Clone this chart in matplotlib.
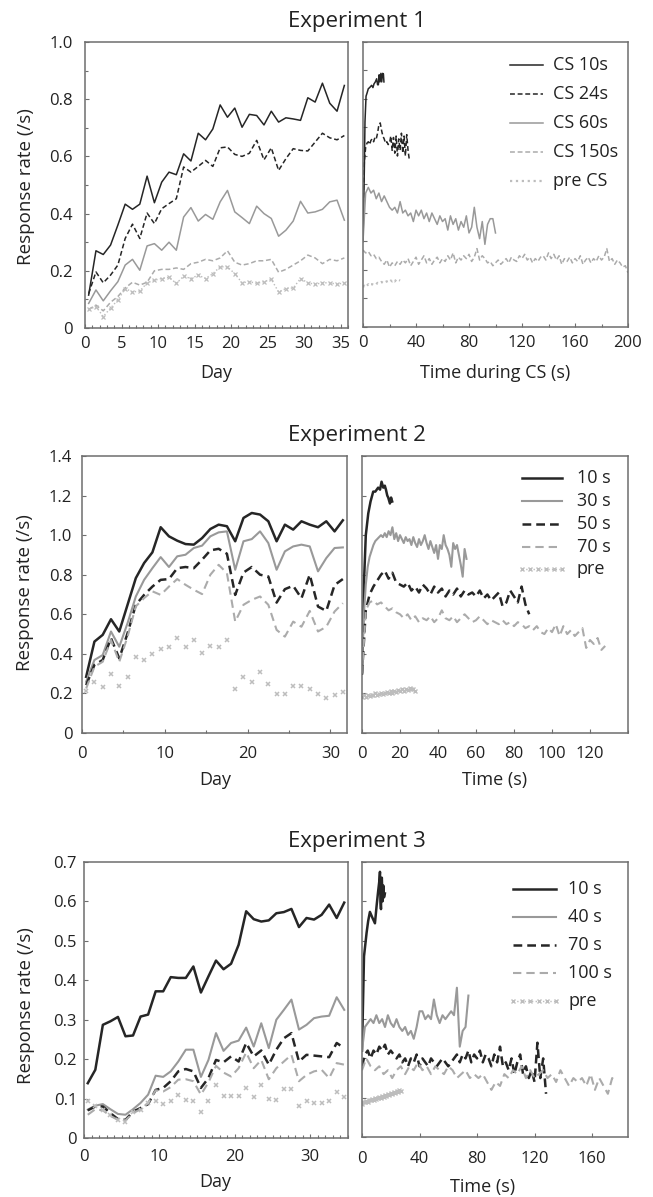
import numpy as np
import matplotlib
matplotlib.use('Agg')
import matplotlib.pyplot as plt
from matplotlib.lines import Line2D
from matplotlib.ticker import MultipleLocator, FuncFormatter, NullFormatter

plt.rcParams['font.family'] = ['Open Sans', 'DejaVu Sans']

# ---------------- Experiment 1 ----------------
e1_days = np.arange(36) + 0.5
e1_cs10 = [0.115, 0.27, 0.257, 0.29, 0.36, 0.433, 0.415, 0.433, 0.531, 0.438, 0.51, 0.545, 0.536, 0.609, 0.584, 0.681,
           0.658, 0.696, 0.78, 0.737, 0.769, 0.702, 0.747, 0.743, 0.71, 0.758, 0.72, 0.735, 0.731, 0.726, 0.805, 0.79,
           0.856, 0.786, 0.758, 0.848]
e1_cs24 = [0.12, 0.196, 0.158, 0.185, 0.22, 0.313, 0.363, 0.313, 0.402, 0.365, 0.417, 0.435, 0.452, 0.563, 0.545, 0.565,
           0.586, 0.565, 0.63, 0.633, 0.607, 0.6, 0.611, 0.656, 0.588, 0.63, 0.551, 0.592, 0.627, 0.621, 0.619, 0.65,
           0.681, 0.665, 0.658, 0.673]
e1_cs60 = [0.086, 0.133, 0.095, 0.13, 0.162, 0.22, 0.24, 0.202, 0.287, 0.295, 0.272, 0.3, 0.272, 0.388, 0.421, 0.374,
           0.397, 0.38, 0.441, 0.481, 0.406, 0.386, 0.365, 0.426, 0.4, 0.383, 0.321, 0.342, 0.374, 0.443, 0.402, 0.406,
           0.415, 0.441, 0.447, 0.377]
e1_cs150 = [0.065, 0.08, 0.06, 0.09, 0.11, 0.14, 0.16, 0.15, 0.16, 0.2, 0.205, 0.205, 0.21, 0.205, 0.225, 0.23, 0.24,
            0.235, 0.245, 0.27, 0.23, 0.22, 0.225, 0.235, 0.235, 0.24, 0.195, 0.205, 0.22, 0.235, 0.255, 0.245, 0.225,
            0.24, 0.235, 0.245]
e1_pre = [0.065, 0.075, 0.04, 0.07, 0.098, 0.138, 0.126, 0.129, 0.158, 0.167, 0.173, 0.177, 0.156, 0.181, 0.173, 0.185,
          0.173, 0.19, 0.214, 0.214, 0.19, 0.158, 0.162, 0.156, 0.162, 0.17, 0.126, 0.138, 0.14, 0.173, 0.158, 0.153,
          0.158, 0.158, 0.153, 0.158]

e1r_cs10_t = [0, 1, 1.5, 2.3, 3, 4, 5, 6.5, 7.5, 8.3, 9.3, 10.3, 11, 11.6, 12.2, 12.8, 13.5, 14.1, 14.8, 15.4, 15.8]
e1r_cs10 = [0.30, 0.55, 0.72, 0.81, 0.82, 0.836, 0.84, 0.848, 0.84, 0.853, 0.86, 0.871, 0.85, 0.85, 0.885, 0.86, 0.89,
            0.86, 0.89, 0.888, 0.86]
e1r_cs24_t = np.arange(0, 36, 1)
e1r_cs24 = [0.40, 0.58, 0.63, 0.645, 0.65, 0.64, 0.655, 0.66, 0.65, 0.665, 0.66, 0.68, 0.71, 0.716, 0.69, 0.67, 0.66,
            0.645, 0.65, 0.64, 0.645, 0.67, 0.62, 0.665, 0.61, 0.67, 0.6, 0.66, 0.62, 0.68, 0.61, 0.67, 0.6, 0.675,
            0.62, 0.585]
e1r_cs60_t = np.arange(0, 101, 2)
e1r_cs60 = [0.30, 0.47, 0.49, 0.47, 0.48, 0.45, 0.47, 0.44, 0.46, 0.44, 0.42, 0.41, 0.42, 0.40, 0.44, 0.40, 0.41, 0.39,
            0.40, 0.37, 0.41, 0.39, 0.41, 0.38, 0.40, 0.37, 0.40, 0.38, 0.36, 0.39, 0.37, 0.38, 0.34, 0.39, 0.36, 0.38,
            0.34, 0.37, 0.35, 0.39, 0.33, 0.35, 0.42, 0.35, 0.31, 0.37, 0.29, 0.36, 0.38, 0.38, 0.33]
e1r_cs150_t = np.arange(0, 201, 2)
e1r_cs150 = [0.27, 0.26, 0.265, 0.25, 0.255, 0.24, 0.245, 0.23, 0.22, 0.235, 0.21, 0.225, 0.215, 0.23, 0.22, 0.235,
             0.225, 0.24, 0.215, 0.23,
             0.245, 0.22, 0.235, 0.25, 0.225, 0.24, 0.22, 0.235, 0.245, 0.225, 0.24, 0.23, 0.25, 0.235, 0.26, 0.225,
             0.245, 0.235, 0.25, 0.24,
             0.255, 0.23, 0.245, 0.275, 0.235, 0.25, 0.24, 0.225, 0.23, 0.215, 0.225, 0.235, 0.22, 0.23, 0.24, 0.225,
             0.245, 0.235, 0.23, 0.25,
             0.24, 0.255, 0.235, 0.245, 0.225, 0.24, 0.23, 0.245, 0.25, 0.235, 0.26, 0.24, 0.255, 0.235, 0.25, 0.22,
             0.24, 0.23, 0.245, 0.225,
             0.24, 0.23, 0.25, 0.22, 0.235, 0.245, 0.225, 0.24, 0.23, 0.25, 0.235, 0.245, 0.275, 0.23, 0.24, 0.22,
             0.235, 0.225, 0.21, 0.215, 0.19]
e1r_pre_t = np.arange(0, 29, 1)
e1r_pre = [0.14, 0.145, 0.14, 0.145, 0.15, 0.145, 0.15, 0.15, 0.148, 0.152, 0.15, 0.155, 0.152, 0.155, 0.158, 0.155,
           0.16, 0.158, 0.16, 0.162, 0.158, 0.163, 0.16, 0.165, 0.16, 0.166, 0.162, 0.165, 0.163]
e1_labels = ['CS 10s', 'CS 24s', 'CS 60s', 'CS 150s', 'pre CS']

# ---------------- Experiment 2 ----------------
e2_days = np.arange(32) + 0.5
e2_10 = [0.284, 0.462, 0.496, 0.575, 0.513, 0.648, 0.783, 0.859, 0.913, 1.04, 0.994, 0.972, 0.955, 0.952, 0.985, 1.031,
         1.053, 1.045, 0.969, 1.087, 1.112, 1.104, 1.07, 0.969, 1.053, 1.028, 1.07, 1.053, 1.04, 1.07, 1.019, 1.075]
e2_30 = [0.259, 0.369, 0.394, 0.513, 0.436, 0.555, 0.69, 0.774, 0.833, 0.889, 0.839, 0.893, 0.901, 0.935, 0.947, 0.994,
         1.014, 1.019, 0.825, 0.969, 0.98, 1.019, 0.96, 0.825, 0.918, 0.943, 0.952, 0.943, 0.817, 0.884, 0.935, 0.938]
e2_50 = [0.242, 0.344, 0.369, 0.479, 0.377, 0.504, 0.648, 0.698, 0.74, 0.774, 0.778, 0.833, 0.839, 0.833, 0.876, 0.923,
         0.931, 0.906, 0.698, 0.811, 0.839, 0.8, 0.791, 0.659, 0.727, 0.744, 0.681, 0.8, 0.639, 0.617, 0.748, 0.778]
e2_70 = [0.225, 0.335, 0.36, 0.47, 0.36, 0.487, 0.64, 0.682, 0.716, 0.698, 0.74, 0.778, 0.749, 0.724, 0.702, 0.8, 0.85,
         0.808, 0.563, 0.648, 0.673, 0.69, 0.648, 0.521, 0.487, 0.563, 0.537, 0.617, 0.513, 0.537, 0.614, 0.656]
e2_pre = [0.21, 0.26, 0.23, 0.3, 0.24, 0.285, 0.386, 0.37, 0.4, 0.425, 0.437, 0.48, 0.437, 0.47, 0.404, 0.44, 0.437,
          0.47, 0.22, 0.285, 0.26, 0.31, 0.25, 0.195, 0.195, 0.237, 0.237, 0.222, 0.195, 0.175, 0.192, 0.208]

e2r_10_t = [0, 1, 2, 3.3, 4.5, 5.9, 7, 8.5, 9.5, 10.3, 11.2, 12, 12.6, 13.3, 13.8, 14.7, 15.3, 15.9]
e2r_10 = [0.3, 0.75, 1.0, 1.11, 1.17, 1.22, 1.22, 1.24, 1.23, 1.27, 1.24, 1.25, 1.23, 1.20, 1.19, 1.16, 1.19, 1.17]
e2r_30_t = np.arange(0, 56, 1)
e2r_30 = [0.35, 0.6, 0.75, 0.84, 0.89, 0.92, 0.95, 0.97, 0.98, 0.99, 1.00, 0.99, 1.01, 0.99, 1.02, 1.00, 1.04, 0.98,
          1.01, 0.97, 1.00, 0.98, 0.96, 0.99, 0.97, 0.98, 0.95, 0.99, 0.96, 0.94, 0.98, 0.95, 0.97, 1.00, 0.96, 0.93,
          0.97, 0.94, 0.91, 0.95, 0.88, 0.95, 0.93, 1.0, 0.95, 0.93, 0.90, 0.84, 0.96, 0.93, 0.95, 0.90, 0.85, 0.79,
          0.93, 0.88]
e2r_50_t = np.arange(0, 89, 2)
e2r_50 = [0.3, 0.62, 0.70, 0.74, 0.77, 0.80, 0.82, 0.78, 0.81, 0.76, 0.75, 0.74, 0.76, 0.72, 0.74, 0.71, 0.75, 0.73,
          0.70, 0.74, 0.71, 0.73, 0.69, 0.72, 0.70, 0.73, 0.69, 0.72, 0.70, 0.71, 0.69, 0.72, 0.68, 0.70, 0.67, 0.69,
          0.71, 0.64, 0.66, 0.72, 0.69, 0.66, 0.74, 0.65, 0.60]
e2r_70_t = np.arange(0, 129, 2)
e2r_70 = [0.3, 0.62, 0.66, 0.67, 0.65, 0.66, 0.64, 0.62, 0.63, 0.61, 0.60, 0.58, 0.60, 0.57, 0.59, 0.56, 0.58, 0.57,
          0.59, 0.56, 0.58, 0.62, 0.58, 0.57, 0.59, 0.56, 0.58, 0.60, 0.58, 0.56, 0.57, 0.59, 0.57, 0.55, 0.57, 0.56,
          0.55, 0.57, 0.55, 0.56, 0.54, 0.56, 0.55, 0.53, 0.54, 0.52, 0.54, 0.51, 0.50, 0.53, 0.51, 0.55, 0.49, 0.54,
          0.50, 0.52, 0.49, 0.51, 0.53, 0.43, 0.47, 0.45, 0.48, 0.42, 0.44]
e2r_pre_t = np.arange(0, 29, 1)
e2r_pre = [0.18, 0.19, 0.18, 0.19, 0.185, 0.19, 0.19, 0.2, 0.19, 0.195, 0.2, 0.195, 0.2, 0.205, 0.2, 0.21, 0.2, 0.21,
           0.205, 0.215, 0.21, 0.22, 0.21, 0.22, 0.215, 0.225, 0.22, 0.22, 0.21]
e2_labels = ['10 s', '30 s', '50 s', '70 s', 'pre']

# ---------------- Experiment 3 ----------------
e3_days = np.arange(35) + 0.5
e3_10 = [0.139, 0.173, 0.287, 0.296, 0.307, 0.258, 0.26, 0.308, 0.313, 0.372, 0.372, 0.408, 0.406, 0.406, 0.435, 0.369,
         0.41, 0.45, 0.428, 0.442, 0.49, 0.575, 0.555, 0.549, 0.552, 0.57, 0.573, 0.581, 0.535, 0.558, 0.554, 0.566,
         0.592, 0.558, 0.597]
e3_40 = [0.072, 0.082, 0.086, 0.073, 0.061, 0.059, 0.073, 0.089, 0.11, 0.158, 0.155, 0.169, 0.194, 0.224, 0.224, 0.155,
         0.198, 0.266, 0.221, 0.241, 0.247, 0.28, 0.232, 0.291, 0.228, 0.3, 0.325, 0.351, 0.275, 0.287, 0.304, 0.308,
         0.31, 0.357, 0.325]
e3_70 = [0.07, 0.08, 0.08, 0.063, 0.048, 0.046, 0.067, 0.076, 0.086, 0.122, 0.127, 0.144, 0.169, 0.175, 0.169, 0.127,
         0.152, 0.198, 0.192, 0.207, 0.194, 0.241, 0.207, 0.222, 0.186, 0.224, 0.253, 0.266, 0.194, 0.211, 0.209, 0.207,
         0.205, 0.241, 0.228]
e3_100 = [0.059, 0.073, 0.07, 0.056, 0.046, 0.045, 0.063, 0.073, 0.089, 0.121, 0.118, 0.129, 0.148, 0.149, 0.144, 0.11,
          0.141, 0.183, 0.166, 0.156, 0.177, 0.217, 0.177, 0.198, 0.149, 0.177, 0.194, 0.211, 0.144, 0.16, 0.169, 0.173,
          0.152, 0.19, 0.186]
e3_pre = [0.093, 0.08, 0.072, 0.058, 0.045, 0.041, 0.066, 0.072, 0.09, 0.093, 0.087, 0.095, 0.11, 0.097, 0.093, 0.065,
          0.093, 0.135, 0.107, 0.107, 0.107, 0.127, 0.104, 0.135, 0.1, 0.097, 0.124, 0.124, 0.08, 0.093, 0.09, 0.09,
          0.093, 0.116, 0.105]

e3r_10_t = [0, 1.4, 2.3, 3.2, 4.3, 5.5, 7, 9, 10.2, 11.3, 12, 12.5, 12.9, 13.2, 13.5, 13.8, 14.3, 14.8, 15.3, 15.9]
e3r_10 = [0.22, 0.46, 0.49, 0.52, 0.55, 0.573, 0.56, 0.544, 0.59, 0.628, 0.65, 0.675, 0.6, 0.58, 0.65, 0.66, 0.6, 0.64,
          0.61, 0.62]
e3r_40_t = np.arange(0, 75, 2)
e3r_40 = [0.22, 0.28, 0.29, 0.30, 0.29, 0.31, 0.29, 0.30, 0.28, 0.31, 0.29, 0.28, 0.30, 0.28, 0.27, 0.28, 0.26, 0.27,
          0.25, 0.28, 0.32, 0.32, 0.30, 0.31, 0.30, 0.35, 0.31, 0.29, 0.31, 0.30, 0.31, 0.32, 0.31, 0.38, 0.23, 0.27,
          0.28, 0.36]
e3r_70_t = np.arange(0, 129, 2)
e3r_70 = [0.18, 0.21, 0.22, 0.20, 0.22, 0.21, 0.23, 0.22, 0.235, 0.21, 0.22, 0.21, 0.20, 0.21, 0.19, 0.20, 0.18, 0.20,
          0.19, 0.21, 0.18, 0.20, 0.19, 0.18, 0.20, 0.19, 0.18, 0.19, 0.20, 0.19, 0.18, 0.19, 0.20, 0.21, 0.19, 0.21,
          0.20, 0.22, 0.19, 0.21, 0.20, 0.22, 0.19, 0.21, 0.20, 0.18, 0.21, 0.19, 0.23, 0.18, 0.19, 0.17, 0.20, 0.16,
          0.19, 0.21, 0.16, 0.18, 0.15, 0.17, 0.14, 0.24, 0.15, 0.20, 0.11]
e3r_100_t = np.arange(0, 178, 3)
e3r_100 = [0.17, 0.20, 0.18, 0.17, 0.18, 0.16, 0.17, 0.15, 0.17, 0.18, 0.16, 0.18, 0.17, 0.19, 0.17, 0.18, 0.16, 0.18,
           0.17, 0.16, 0.18, 0.17, 0.15, 0.16, 0.17, 0.15, 0.16, 0.15, 0.16, 0.14, 0.12, 0.14, 0.13, 0.16, 0.15, 0.17,
           0.16, 0.18, 0.15, 0.17, 0.15, 0.16, 0.17, 0.15, 0.16, 0.14, 0.17, 0.15, 0.13, 0.15, 0.14, 0.15, 0.13, 0.16,
           0.12, 0.15, 0.13, 0.11, 0.15, 0.14]
e3r_pre_t = np.arange(0, 28, 1)
e3r_pre = [0.085, 0.09, 0.088, 0.092, 0.09, 0.095, 0.093, 0.097, 0.095, 0.1, 0.098, 0.1, 0.103, 0.1, 0.105, 0.103,
           0.108, 0.105, 0.11, 0.108, 0.113, 0.11, 0.115, 0.113, 0.118, 0.115, 0.12, 0.118]
e3_labels = ['10 s', '40 s', '70 s', '100 s', 'pre']

# ---------------- drawing ----------------
W, H = 653, 1197
fig = plt.figure(figsize=(W / 100, H / 100), dpi=100)

BLACK = '#262626'
GRAY = '#999999'
LGRAY = '#ababab'
PREC = '#bdbdbd'
SPINE = '#6e6e6e'
TXT = '#222222'

# line styles (experiment 1 thin, experiments 2/3 heavier)
S1 = [dict(color=BLACK, lw=1.1),
      dict(color=BLACK, lw=1.1, dashes=(3.2, 1.8)),
      dict(color=GRAY, lw=1.1),
      dict(color=LGRAY, lw=1.1, dashes=(3.2, 1.8)),
      dict(color=PREC, lw=1.6, ls=':')]
S23 = [dict(color=BLACK, lw=1.8),
       dict(color=GRAY, lw=1.5),
       dict(color=BLACK, lw=1.8, dashes=(3.5, 2)),
       dict(color=LGRAY, lw=1.5, dashes=(4, 2.4)),
       dict(color=PREC, lw=1.0, ls=':', marker='x', ms=3, mew=1.0)]
PRE_DAY = dict(color=PREC, ls='none', marker='x', ms=3.2, mew=1.1)


def add_ax(x0, y0, x1, y1):
    ax = fig.add_axes([x0 / W, 1 - y1 / H, (x1 - x0) / W, (y1 - y0) / H])
    for s in ax.spines.values():
        s.set_color(SPINE)
        s.set_linewidth(1.1)
    ax.tick_params(which='both', direction='in', color=SPINE, width=0.8, labelsize=12, labelcolor=TXT)
    ax.tick_params(which='major', length=3)
    ax.tick_params(which='minor', length=2)
    return ax


def yfmt(v, pos):
    return '0' if abs(v) < 1e-9 else f'{v:.1f}'


def ftext(x, y, s, **kw):
    fig.text(x / W, 1 - y / H, s, ha='center', va='center', color=TXT, **kw)


def style_left(ax, xmax, xmaj, xmin, ymax, ymaj, ymin, xpad, ypad):
    ax.set_xlim(0, xmax)
    ax.set_ylim(0, ymax)
    ax.xaxis.set_major_locator(MultipleLocator(xmaj))
    ax.xaxis.set_minor_locator(MultipleLocator(xmin))
    ax.yaxis.set_major_locator(MultipleLocator(ymaj))
    ax.yaxis.set_minor_locator(MultipleLocator(ymin))
    ax.yaxis.set_major_formatter(FuncFormatter(yfmt))
    ax.tick_params(axis='x', pad=xpad)
    ax.tick_params(axis='y', pad=ypad)


def style_right(ax, xmax, xticks, xmin, ymax, ystep, xpad):
    ax.set_xlim(0, xmax)
    ax.set_ylim(0, ymax)
    ax.set_xticks(xticks)
    ax.xaxis.set_minor_locator(MultipleLocator(xmin))
    ax.yaxis.set_major_locator(MultipleLocator(ystep))
    ax.yaxis.set_major_formatter(NullFormatter())
    ax.tick_params(axis='x', pad=xpad)


def legend_rows(styles, labels, rows, hx0, hx1, tx):
    for st, lab, ry in zip(styles, labels, rows):
        yy = 1 - ry / H
        n = 6 if st.get('marker') else 2
        xs = np.linspace(hx0, hx1, n) / W
        fig.add_artist(Line2D(xs, np.full(n, yy), transform=fig.transFigure, **st))
        fig.text(tx / W, yy, lab, ha='left', va='center', fontsize=13, color=TXT)


# Experiment 1
a1 = add_ax(85, 42, 348, 328)
b1 = add_ax(363, 42, 628, 327)
for y, st in zip([e1_cs10, e1_cs24, e1_cs60, e1_cs150], S1[:4]):
    a1.plot(e1_days, y, **st)
a1.plot(e1_days, e1_pre, color=PREC, lw=1.0, ls=':', marker='x', ms=2.5, mew=0.9)
for t, y, st in zip([e1r_cs10_t, e1r_cs24_t, e1r_cs60_t, e1r_cs150_t, e1r_pre_t],
                    [e1r_cs10, e1r_cs24, e1r_cs60, e1r_cs150, e1r_pre], S1):
    b1.plot(t, y, **st)
style_left(a1, 36, 5, 1, 1.0, 0.2, 0.1, 6, 9)
style_right(b1, 200, [0, 40, 80, 120, 160, 200], 20, 1.0, 0.1, 6)
legend_rows(S1, e1_labels, [65, 94, 123, 152, 181], 510, 543, 553)
ftext(357, 21, 'Experiment 1', fontsize=16)
ftext(26, 187, 'Response rate (/s)', fontsize=13.5, rotation=90)
ftext(216, 373, 'Day', fontsize=13)
ftext(495, 373, 'Time during CS (s)', fontsize=13)

# Experiment 2
a2 = add_ax(82, 456, 347, 733)
b2 = add_ax(362, 456, 628, 733)
for y, st in zip([e2_10, e2_30, e2_50, e2_70], S23[:4]):
    a2.plot(e2_days, y, **st)
a2.plot(e2_days, e2_pre, **PRE_DAY)
for t, y, st in zip([e2r_10_t, e2r_30_t, e2r_50_t, e2r_70_t, e2r_pre_t],
                    [e2r_10, e2r_30, e2r_50, e2r_70, e2r_pre], S23):
    b2.plot(t, y, **st)
style_left(a2, 32, 10, 5, 1.4, 0.2, 0.2, 9, 7)
style_right(b2, 140, [0, 20, 40, 60, 80, 100, 120], 20, 1.4, 0.2, 9)
legend_rows(S23, e2_labels, [478, 501, 524, 547, 569], 522, 562, 577)
ftext(357, 436, 'Experiment 2', fontsize=16)
ftext(25, 593, 'Response rate (/s)', fontsize=13.5, rotation=90)
ftext(215, 780, 'Day', fontsize=13)
ftext(495, 780, 'Time (s)', fontsize=13)

# Experiment 3
a3 = add_ax(84, 862, 348, 1138)
b3 = add_ax(362, 862, 628, 1137)
for y, st in zip([e3_10, e3_40, e3_70, e3_100], S23[:4]):
    a3.plot(e3_days, y, **st)
a3.plot(e3_days, e3_pre, **PRE_DAY)
for t, y, st in zip([e3r_10_t, e3r_40_t, e3r_70_t, e3r_100_t, e3r_pre_t],
                    [e3r_10, e3r_40, e3r_70, e3r_100, e3r_pre], S23):
    b3.plot(t, y, **st)
style_left(a3, 35, 10, 1, 0.7, 0.1, 0.1, 8, 5)
style_right(b3, 185, [0, 40, 80, 120, 160], 40, 0.7, 0.1, 10)
legend_rows(S23, e3_labels, [889, 917, 945, 973, 1001], 513, 556, 568)
ftext(357, 842, 'Experiment 3', fontsize=16)
ftext(26, 1006, 'Response rate (/s)', fontsize=13.5, rotation=90)
ftext(215, 1182, 'Day', fontsize=13)
ftext(483, 1187, 'Time (s)', fontsize=13)

fig.savefig('out.png', dpi=100)
